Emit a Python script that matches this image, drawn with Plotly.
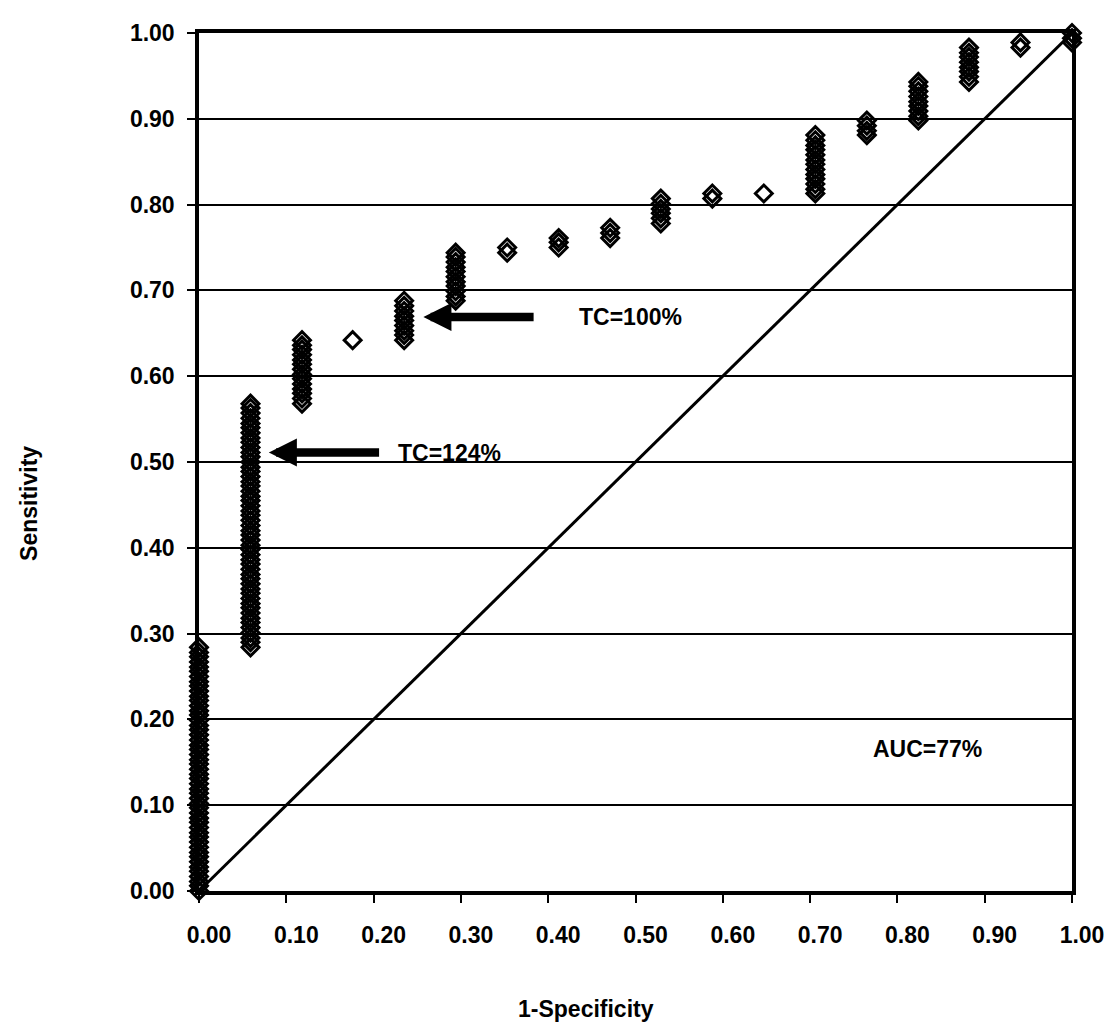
import plotly.graph_objects as go

# ---- data ----
fpr_levels = [0.000, 0.059, 0.118, 0.176, 0.235, 0.294, 0.353, 0.412, 0.471,
              0.529, 0.588, 0.647, 0.706, 0.765, 0.824, 0.882, 0.941, 1.000]

sens_col_00 = [0.000, 0.006, 0.011, 0.017, 0.023, 0.028, 0.034, 0.040, 0.045, 0.051,
               0.057, 0.063, 0.068, 0.074, 0.080, 0.085, 0.091, 0.097, 0.102, 0.108,
               0.114, 0.119, 0.125, 0.131, 0.136, 0.142, 0.148, 0.153, 0.159, 0.165,
               0.170, 0.176, 0.182, 0.188, 0.193, 0.199, 0.205, 0.210, 0.216, 0.222,
               0.227, 0.233, 0.239, 0.244, 0.250, 0.256, 0.261, 0.267, 0.273, 0.278, 0.284]
sens_col_01 = [0.284, 0.290, 0.295, 0.301, 0.307, 0.313, 0.318, 0.324, 0.330, 0.335,
               0.341, 0.347, 0.352, 0.358, 0.364, 0.369, 0.375, 0.381, 0.386, 0.392,
               0.398, 0.403, 0.409, 0.415, 0.420, 0.426, 0.432, 0.438, 0.443, 0.449,
               0.455, 0.460, 0.466, 0.472, 0.477, 0.483, 0.489, 0.494, 0.500, 0.506,
               0.511, 0.517, 0.523, 0.528, 0.534, 0.540, 0.545, 0.551, 0.557, 0.563, 0.568]
sens_col_02 = [0.568, 0.574, 0.580, 0.585, 0.591, 0.597, 0.602, 0.608, 0.614, 0.619,
               0.625, 0.631, 0.636, 0.642]
sens_col_03 = [0.642]
sens_col_04 = [0.642, 0.648, 0.653, 0.659, 0.665, 0.670, 0.676, 0.682, 0.688]
sens_col_05 = [0.688, 0.693, 0.699, 0.705, 0.710, 0.716, 0.722, 0.727, 0.733, 0.739, 0.744]
sens_col_06 = [0.744, 0.750]
sens_col_07 = [0.750, 0.756, 0.761]
sens_col_08 = [0.761, 0.767, 0.773]
sens_col_09 = [0.778, 0.784, 0.790, 0.795, 0.801, 0.807]
sens_col_10 = [0.807, 0.813]
sens_col_11 = [0.813]
sens_col_12 = [0.813, 0.818, 0.824, 0.830, 0.835, 0.841, 0.847, 0.852, 0.858, 0.864,
               0.869, 0.875, 0.881]
sens_col_13 = [0.881, 0.886, 0.892, 0.898]
sens_col_14 = [0.898, 0.903, 0.909, 0.915, 0.920, 0.926, 0.932, 0.938, 0.943]
sens_col_15 = [0.943, 0.949, 0.955, 0.960, 0.966, 0.972, 0.977, 0.983]
sens_col_16 = [0.983, 0.989]
sens_col_17 = [0.989, 0.994, 1.000]

sensitivity_by_column = [sens_col_00, sens_col_01, sens_col_02, sens_col_03, sens_col_04,
                         sens_col_05, sens_col_06, sens_col_07, sens_col_08, sens_col_09,
                         sens_col_10, sens_col_11, sens_col_12, sens_col_13, sens_col_14,
                         sens_col_15, sens_col_16, sens_col_17]

reference_line = [0.0, 1.0]
tick_values = [0.0, 0.1, 0.2, 0.3, 0.4, 0.5, 0.6, 0.7, 0.8, 0.9, 1.0]
tick_labels = ["0.00", "0.10", "0.20", "0.30", "0.40", "0.50", "0.60", "0.70", "0.80", "0.90", "1.00"]

x_title = "1-Specificity"
y_title = "Sensitivity"
auc_label = "AUC=77%"
tc_labels = ["TC=124%", "TC=100%"]
tc_tip = [(0.080, 0.511), (0.257, 0.669)]
tc_tail = [0.208, 0.385]
tc_text_x = [0.226, 0.433]
auc_pos = (0.834, 0.166)

# ---- build ----
xs, ys = [], []
for fx, col in zip(fpr_levels, sensitivity_by_column):
    for v in col:
        xs.append(fx)
        ys.append(v)

FONT = "Arial, 'Liberation Sans', sans-serif"
FS = 23

fig = go.Figure()
fig.add_trace(go.Scatter(x=reference_line, y=reference_line, mode="lines",
                         line=dict(color="black", width=3), hoverinfo="skip",
                         showlegend=False))
fig.add_trace(go.Scatter(x=xs, y=ys, mode="markers", cliponaxis=False,
                         marker=dict(symbol="diamond-open", size=13, color="black",
                                     line=dict(color="black", width=3)),
                         showlegend=False))

annotations = []
for (tx, ty), tail, txx, lab in zip(tc_tip, tc_tail, tc_text_x, tc_labels):
    annotations.append(dict(x=tx, y=ty, xref="x", yref="y", ax=tail, ay=ty,
                            axref="x", ayref="y", text="", showarrow=True,
                            arrowhead=2, arrowsize=0.66, arrowwidth=8.5,
                            arrowcolor="black", standoff=0, startstandoff=0))
    annotations.append(dict(x=txx, y=ty, xref="x", yref="y", text=lab,
                            showarrow=False, xanchor="left", yanchor="middle",
                            font=dict(family=FONT, size=FS, color="black", weight="bold")))
annotations.append(dict(x=auc_pos[0], y=auc_pos[1], xref="x", yref="y", text=auc_label,
                        showarrow=False, xanchor="center", yanchor="middle",
                        font=dict(family=FONT, size=FS, color="black", weight="bold")))
annotations.append(dict(x=0.443, y=-0.137, xref="paper", yref="paper", text=x_title,
                        showarrow=False, xanchor="center", yanchor="middle",
                        font=dict(family=FONT, size=FS, color="black", weight="bold")))
annotations.append(dict(x=-0.195, y=0.452, xref="paper", yref="paper", text=y_title,
                        showarrow=False, xanchor="center", yanchor="middle", textangle=-90,
                        font=dict(family=FONT, size=FS, color="black", weight="bold")))

axis_common = dict(range=[0, 1], tickmode="array", tickvals=tick_values, ticktext=tick_labels,
                   showline=True, linecolor="black", linewidth=3.5, mirror=True,
                   ticks="outside", ticklen=8, tickwidth=2, tickcolor="black",
                   zeroline=False,
                   tickfont=dict(family=FONT, size=FS, color="black", weight="bold"))

# the page body has an 8px margin, so the figure is drawn 8px in from the window edge
fig.update_layout(
    width=1108, height=1020,
    margin=dict(l=191, r=39, t=14, b=137),
    paper_bgcolor="white", plot_bgcolor="white",
    xaxis=dict(**axis_common, showgrid=False, ticklabelstandoff=13, ticklabelshift=10),
    yaxis=dict(**axis_common, showgrid=True, gridcolor="black", gridwidth=2,
               ticklabelstandoff=8),
    annotations=annotations,
    showlegend=False,
)

fig.write_html("out.html")
